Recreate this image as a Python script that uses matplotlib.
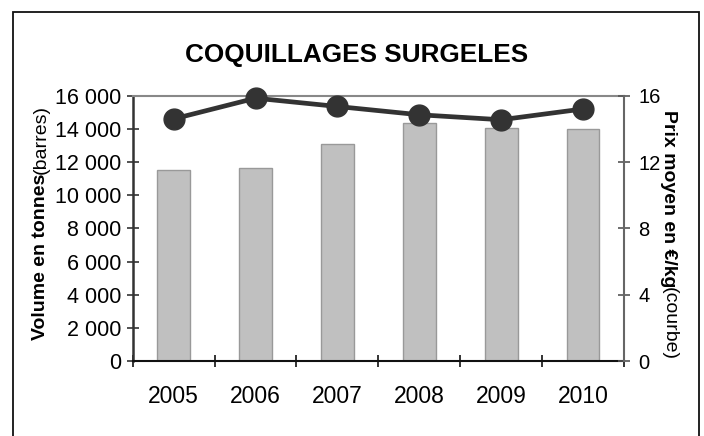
import matplotlib
matplotlib.use("Agg")
import matplotlib.pyplot as plt
from matplotlib.patches import Rectangle
from matplotlib.ticker import FuncFormatter, FixedLocator

plt.rcParams['font.family'] = ['Liberation Sans', 'DejaVu Sans']

# data
years = ['2005', '2006', '2007', '2008', '2009', '2010']
volume = [11500, 11660, 13070, 14330, 14070, 14010]   # tonnes (barres)
prix = [14.6, 15.85, 15.35, 14.85, 14.55, 15.2]       # EUR/kg (courbe)

fig = plt.figure(figsize=(7.04, 4.36), dpi=100)

# outer frame of the chart
fig.patches.append(Rectangle((12.5 / 704, -0.05), (699 - 12.5) / 704, 1.05 - 11.7 / 436,
                             transform=fig.transFigure, fill=False,
                             edgecolor='#111111', linewidth=1.3))

ax = fig.add_axes([132.7 / 704, 1 - 361 / 436, (624 - 132.7) / 704, (361 - 95.7) / 436])
x = list(range(len(years)))
ax.bar(x, volume, width=0.4, color='#c0c0c0', edgecolor='#999999', linewidth=1, zorder=2)
ax.set_xlim(-0.5, 5.5)
ax.set_ylim(0, 16000)
ax.set_yticks(range(0, 16001, 2000))
ax.yaxis.set_major_formatter(FuncFormatter(lambda v, p: f"{int(v):,}".replace(",", " ")))
ax.set_xticks(x)
ax.set_xticklabels(years, fontsize=16.5)
ax.xaxis.set_minor_locator(FixedLocator([i - 0.5 for i in range(7)]))
ax.tick_params(axis='x', which='major', length=0, pad=17)
ax.tick_params(axis='x', which='minor', direction='inout', length=9, width=1.2, color='#111111')
ax.tick_params(axis='y', direction='inout', length=9, width=1.2, color='#333333',
               labelsize=15.5, pad=4)

ax.spines['top'].set_color('#888888')
ax.spines['top'].set_linewidth(1.5)
ax.spines['left'].set_color('#333333')
ax.spines['left'].set_linewidth(1.8)
ax.spines['bottom'].set_color('#111111')
ax.spines['bottom'].set_linewidth(1.5)
ax.spines['right'].set_visible(False)

ax2 = ax.twinx()
ax2.plot(x, prix, color='#333333', linewidth=3.4, marker='o', markersize=15, zorder=3,
         clip_on=False)
ax2.set_ylim(0, 16)
ax2.set_yticks([0, 4, 8, 12, 16])
ax2.tick_params(axis='y', direction='inout', length=9, width=1.2, color='#555555',
                labelsize=14.5, pad=6)
for s in ['top', 'left', 'bottom']:
    ax2.spines[s].set_visible(False)
ax2.spines['right'].set_color('#666666')
ax2.spines['right'].set_linewidth(1.5)

fig.text(357 / 704, 1 - 55 / 436, 'COQUILLAGES SURGELES', ha='center', va='center',
         fontsize=18.8, fontweight='bold')

# axis titles: bold part + regular part
fig.canvas.draw()
r = fig.canvas.get_renderer()
lab_size = 14
t1 = fig.text(41 / 704, 1 - 340 / 436, 'Volume en tonnes', rotation=90, ha='center',
              va='bottom', fontsize=lab_size, fontweight='bold')
bb = t1.get_window_extent(r)
fig.text(41 / 704, bb.y1 / fig.bbox.height, '(barres)', rotation=90, ha='center',
         va='bottom', fontsize=lab_size)

t3 = fig.text(669 / 704, 1 - 110 / 436, 'Prix moyen en €/kg', rotation=-90, ha='center',
              va='top', fontsize=lab_size, fontweight='bold')
bb = t3.get_window_extent(r)
fig.text(669 / 704, bb.y0 / fig.bbox.height, '(courbe)', rotation=-90, ha='center',
         va='top', fontsize=lab_size)

fig.savefig('out.png', dpi=100)
